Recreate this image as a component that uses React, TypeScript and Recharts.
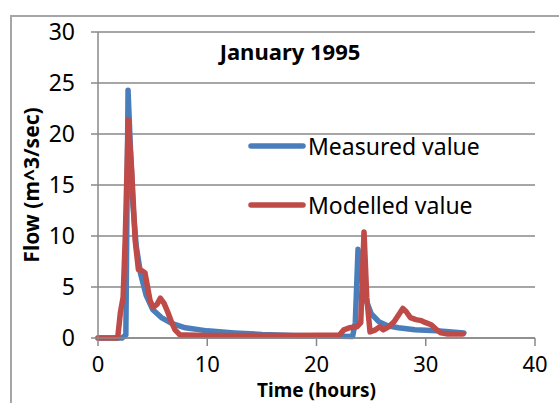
import React from "react";
import {
  LineChart,
  Line,
  XAxis,
  YAxis,
  CartesianGrid,
  Legend,
} from "recharts";

// Measured flow (time in hours, flow in m^3/sec)
const measuredTime = [
  0, 2.2, 2.55, 2.75, 2.95, 3.2, 3.5, 3.9, 4.4, 5, 5.8, 6.8, 8, 10, 12.5, 15,
  18, 21, 23.3, 23.55, 23.8, 24.1, 24.5, 25, 25.7, 26.5, 27.5, 29, 31, 33.5,
];
const measuredFlow = [
  0, 0, 0.3, 24.3, 19, 13, 9, 6.3, 4.2, 2.8, 2, 1.4, 1.0, 0.7, 0.5, 0.35, 0.25,
  0.2, 0.15, 1.5, 8.7, 6, 3.8, 2.4, 1.6, 1.2, 1.0, 0.8, 0.7, 0.5,
];

// Modelled flow
const modelledTime = [
  0, 1.8, 2.05, 2.3, 2.5, 2.77, 3.08, 3.4, 3.7, 4.0, 4.3, 4.76, 5.05, 5.4, 5.7,
  6.05, 6.4, 6.75, 7.05, 7.5, 8, 10, 14, 18, 22.1, 22.5, 23.0, 23.7, 24.05,
  24.35, 24.6, 24.9, 25.4, 25.8, 26.1, 26.6, 27.1, 27.6, 27.9, 28.2, 28.6,
  29.1, 29.6, 30.0, 30.5, 31.0, 31.4, 32, 33.4,
];
const modelledFlow = [
  0, 0, 2.5, 4, 10, 21.4, 16.5, 9.6, 6.7, 6.6, 6.4, 3.7, 3.0, 3.3, 3.9, 3.4,
  2.5, 1.5, 0.8, 0.3, 0.3, 0.25, 0.25, 0.25, 0.3, 0.8, 1.0, 1.1, 1.5, 10.4, 4,
  0.6, 0.8, 1.1, 0.8, 1.1, 1.6, 2.4, 2.9, 2.6, 2.0, 1.8, 1.7, 1.5, 1.3, 0.8,
  0.5, 0.4, 0.4,
];

const xTicks = [0, 10, 20, 30, 40];
const yTicks = [0, 5, 10, 15, 20, 25, 30];

const measuredData = measuredTime.map((t, i) => ({ t, flow: measuredFlow[i] }));
const modelledData = modelledTime.map((t, i) => ({ t, flow: modelledFlow[i] }));

const FONT = "'Noto Sans', sans-serif";
const BLUE = "#4a7ebb";
const RED = "#be4b48";
const GRID = "#888888";

const legendItems = [
  { name: "Measured value", color: BLUE },
  { name: "Modelled value", color: RED },
];

const renderLegend = () => (
  <div style={{ fontFamily: FONT, fontSize: 23, color: "#000" }}>
    {legendItems.map((item) => (
      <div
        key={item.name}
        style={{ display: "flex", alignItems: "center", height: 59 }}
      >
        <svg width={58} height={10} style={{ marginRight: 2 }}>
          <line
            x1={3}
            y1={5}
            x2={55}
            y2={5}
            stroke={item.color}
            strokeWidth={5.5}
            strokeLinecap="round"
          />
        </svg>
        <span>{item.name}</span>
      </div>
    ))}
  </div>
);

export default function App() {
  return (
    <div
      style={{
        position: "fixed",
        left: 0,
        top: 0,
        width: 559,
        height: 403,
        background: "#fff",
        overflow: "hidden",
      }}
    >
      <div
        style={{
          position: "absolute",
          left: 10,
          top: 15,
          width: 600,
          height: 500,
          borderLeft: "2px solid #a6a6a6",
          borderTop: "2px solid #a6a6a6",
        }}
      />
      <div
        style={{
          position: "absolute",
          left: 190,
          top: 36,
          width: 200,
          textAlign: "center",
          fontFamily: FONT,
          fontWeight: "bold",
          fontSize: 22,
          color: "#000",
        }}
      >
        January 1995
      </div>
      <LineChart
        width={559}
        height={403}
        margin={{ top: 32, right: 24, bottom: 5, left: 0 }}
        style={{ position: "absolute", left: 0, top: 0 }}
      >
        <CartesianGrid vertical={false} stroke={GRID} strokeWidth={1.5} />
        <XAxis
          type="number"
          dataKey="t"
          domain={[0, 40]}
          ticks={xTicks}
          height={60}
          tickSize={8}
          tickMargin={10}
          stroke={GRID}
          strokeWidth={1.5}
          tick={{ fill: "#000", fontSize: 22, fontFamily: FONT }}
          label={{
            value: "Time (hours)",
            position: "insideBottom",
            offset: 1,
            style: {
              fill: "#000",
              fontSize: 19,
              fontWeight: "bold",
              fontFamily: FONT,
            },
          }}
        />
        <YAxis
          type="number"
          domain={[0, 30]}
          ticks={yTicks}
          width={98}
          tickSize={7}
          tickMargin={16}
          stroke={GRID}
          strokeWidth={1.5}
          tick={{ fill: "#000", fontSize: 23, fontFamily: FONT }}
          label={{
            value: "Flow (m^3/sec)",
            angle: -90,
            position: "insideLeft",
            offset: 32,
            style: {
              textAnchor: "middle",
              fill: "#000",
              fontSize: 21,
              fontWeight: "bold",
              fontFamily: FONT,
            },
          }}
        />
        <Legend
          layout="vertical"
          align="center"
          verticalAlign="middle"
          content={renderLegend}
          wrapperStyle={{ position: "absolute", left: 248, top: 116, width: 260 }}
        />
        <Line
          data={measuredData}
          dataKey="flow"
          name="Measured value"
          type="linear"
          stroke={BLUE}
          strokeWidth={5.5}
          strokeLinejoin="round"
          strokeLinecap="round"
          dot={false}
          isAnimationActive={false}
        />
        <Line
          data={modelledData}
          dataKey="flow"
          name="Modelled value"
          type="linear"
          stroke={RED}
          strokeWidth={5.5}
          strokeLinejoin="round"
          strokeLinecap="round"
          dot={false}
          isAnimationActive={false}
        />
      </LineChart>
    </div>
  );
}
